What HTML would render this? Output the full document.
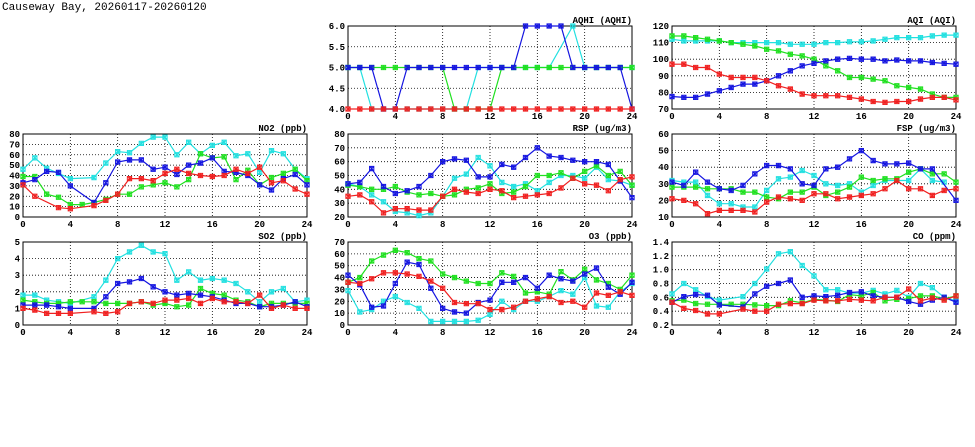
<!DOCTYPE html>
<html><head><meta charset="utf-8"><style>
body{margin:0;background:#fff;width:975px;height:447px;overflow:hidden}
svg{display:block}
text{font-family:"Liberation Mono","DejaVu Sans Mono",monospace;font-size:9px;font-weight:bold;fill:#000}
</style></head><body>
<svg id="c" width="975" height="447">
<text x="2" y="10" style="font-size:11px;font-weight:normal">Causeway Bay, 20260117-20260120</text>
</svg>
<script>
const hours = [0,1,2,3,4,5,6,7,8,9,10,11,12,13,14,15,16,17,18,19,20,21,22,23,24];
const xTicks = [0,4,8,12,16,20,24];
const seriesColors = ["#22e0e0","#20e020","#1515e0","#f02020"];
const seriesNames = ["cyan","green","blue","red"];

const aqhiCyan = [5,5,4,4,4,4,4,4,4,4,4,5,5,5,5,5,5,5,null,6,5,5,5,5,5];
const aqhiGreen = [5,5,5,5,5,5,5,5,5,4,4,4,4,5,5,5,5,5,5,5,5,5,5,5,5];
const aqhiBlue = [5,5,5,4,4,5,5,5,5,5,5,5,5,5,5,6,6,6,6,5,5,5,5,5,4];
const aqhiRed = [4,4,4,4,4,4,4,4,4,4,4,4,4,4,4,4,4,4,4,4,4,4,4,4,4];
const aqhiTicks = [4.0,4.5,5.0,5.5,6.0];

const aqiCyan = [112,111,111,111,111,110,110,110,110,110,109,109,109,110,110,110.5,110.5,111,112,113,113,113,114,114.5,114.5];
const aqiGreen = [114,114,113,112,111,110,109,108,106,105,103,102,100,96,93,89,89,88,87,84,83,82,79,77,77];
const aqiBlue = [77.5,77,77,79,81,83,85,85,87,90,93,96,97.5,99,100,100.5,100,100,99,99.5,99,99,98,97.5,97];
const aqiRed = [97,97,95,95,91,89,89,89,87,84,82,79,78,78,78,77,76,74.5,74,74.5,74.5,76,77,77,75.5];
const aqiTicks = [70,80,90,100,110,120];

const no2Cyan = [46,57,47,42,37,null,38,52,63,62,71,77,77,60,72,61,69,72,59,61,43,64,61,46,37];
const no2Green = [39,39,22,19,12,12,14,17,22,22,29,31,33,29,36,61,57,58,36,45,31,38,42,46,35];
const no2Blue = [33,36,44,43,30,null,14,33,53,55,55,46,48,41,50,52,57,44,43,40,31,26,37,41,31];
const no2Red = [31,20,null,9,8,null,11,16,22,37,37,35,42,46,42,40,39,40,46,42,48,33,35,27,22];
const no2Ticks = [0,10,20,30,40,50,60,70,80];

const rspCyan = [44,42,36,31,24,23,21,23,35,48,51,63,57,45,42,44,39,45,50,50,48,56,47,46,43];
const rspGreen = [43,42,40,40,42,38,36,37,35,36,40,41,44,37,38,42,50,50,52,48,53,57,50,53,43];
const rspBlue = [44,45,55,42,37,39,42,50,60,62,61,49,49,58,56,63,70,64,63,61,60,60,58,46,34];
const rspRed = [35,36,31,23,26,26,25,25,35,40,38,37,40,39,34,35,36,37,41,48,44,43,39,47,49];
const rspTicks = [20,30,40,50,60,70,80];

const fspCyan = [32,31,31,23,18,18,16,16,26,33,34,38,35,30,29,30,25,29,32,32,32,39,32,31,null];
const fspGreen = [28,28,28,27,27,27,25,25,22,21,25,25,28,23,25,28,34,32,33,33,37,39,36,36,31];
const fspBlue = [31,29,37,31,27,26,29,36,41,41,39,30,29,39,40,45,50,44,42,42,42.5,39,39,null,20];
const fspRed = [21,20,18,12,14,14,14,13,19,22,21,20,24,24,21,22,23,24,27,32,27,27,23,26,27];
const fspTicks = [10,20,30,40,50,60];

const so2Cyan = [1.8,1.8,1.5,1.4,1.3,null,1.7,2.7,4.0,4.4,4.8,4.4,4.3,2.7,3.2,2.7,2.8,2.7,2.5,2.0,1.4,2.0,2.2,1.4,1.5];
const so2Green = [1.5,1.4,1.3,1.3,1.4,1.4,1.4,1.3,1.3,1.3,1.4,1.2,1.3,1.1,1.2,2.2,1.9,1.8,1.5,1.4,1.1,1.3,1.3,1.3,1.3];
const so2Blue = [1.2,1.2,1.2,1.1,1.0,null,1.0,1.7,2.5,2.6,2.8,2.3,2.0,1.8,1.9,1.8,1.7,1.5,1.3,1.3,1.1,1.1,1.2,1.4,1.1];
const so2Red = [1.0,0.9,0.7,0.7,0.7,null,0.8,0.7,0.8,1.3,1.4,1.3,1.5,1.5,1.6,1.3,1.6,1.4,1.4,1.3,1.8,1.0,1.2,1.0,1.0];
const so2Ticks = [0,1,2,3,4,5];

const o3Cyan = [29,11,13,20,24,19,14,3,3,3,3,4,9,20,13,20,20,24,29,26,40,16,15,28,35];
const o3Green = [36,40,54,59,63,61,56,54,43,40,37,35,35,44,41,27,28,26,45,38,47,38,35,30,42];
const o3Blue = [42,34,15,16,35,53,51,31,14,11,10,19,21,36,36,40,31,42,39,37,43,48,32,26,36];
const o3Red = [36,35,39,44,44,43,41,37,31,19,18,18,13,13,15,20,22,24,19,20,15,27,25,28,25];
const o3Ticks = [0,10,20,30,40,50,60,70];

const coCyan = [0.65,0.8,0.71,0.61,0.56,null,0.61,0.8,1.01,1.23,1.26,1.06,0.91,0.71,0.71,0.66,0.66,0.7,0.65,0.7,0.6,0.8,0.74,0.6,0.55];
const coGreen = [0.55,0.56,0.51,0.5,0.5,0.5,0.5,0.49,0.48,0.48,0.55,0.52,0.57,0.56,0.54,0.64,0.62,0.67,0.55,0.57,0.58,0.62,0.62,0.58,0.62];
const coBlue = [0.53,0.61,0.64,0.63,0.49,null,0.46,0.65,0.76,0.8,0.85,0.6,0.62,0.61,0.63,0.67,0.68,0.62,0.6,0.6,0.54,0.5,0.56,0.6,0.53];
const coRed = [0.53,0.44,0.41,0.36,0.36,null,0.43,0.4,0.4,0.5,0.51,0.51,0.56,0.55,0.55,0.57,0.56,0.55,0.6,0.6,0.72,0.55,0.59,0.56,0.62];
const coTicks = [0.2,0.4,0.6,0.8,1.0,1.2,1.4];

const NS = "http://www.w3.org/2000/svg";
const svg = document.getElementById("c");
function mk(tag, attrs, parent){const e=document.createElementNS(NS,tag);for(const k in attrs)e.setAttribute(k,attrs[k]);(parent||svg).appendChild(e);return e;}

function panel(key,title,L,T,ticks,dec,series){
  const R=L+284,B=T+83;
  const ymin=ticks[0],ymax=ticks[ticks.length-1];
  const xs=h=>L+(h/24)*(R-L);
  const ys=v=>B-(v-ymin)/(ymax-ymin)*(B-T);
  const g=mk("g",{});
  
  
  ticks.forEach(t=>{
    const y=ys(t);
    if(t!==ymin&&t!==ymax){const gl=mk("line",{x1:L,x2:R,y1:y,y2:y,stroke:"#000","stroke-width":0.8,"stroke-dasharray":"1,2"},g);
      }
    const tx=mk("text",{x:L-3,y:y+3,"text-anchor":"end"},g);tx.textContent=t.toFixed(dec);
    
  });
  xTicks.forEach(t=>{
    const x=xs(t);
    if(t!==0&&t!==24){const gl=mk("line",{x1:x,x2:x,y1:T,y2:B,stroke:"#000","stroke-width":0.8,"stroke-dasharray":"1,2"},g);
      }
    const tx=mk("text",{x:x,y:B+10,"text-anchor":"middle"},g);tx.textContent=t;
    
  });
  const fr=mk("rect",{x:L,y:T,width:R-L,height:B-T,fill:"none",stroke:"#000","stroke-width":1},g);
  
  const tt=mk("text",{x:R,y:T-3,"text-anchor":"end"},g);tt.textContent=title;
  
  series.forEach((vals,si)=>{
    const col=seriesColors[si];
    const pts=[];hours.forEach((h,i)=>{if(vals[i]!==null)pts.push([xs(h),ys(vals[i])]);});
    const pl=mk("polyline",{points:pts.map(p=>p[0].toFixed(1)+","+p[1].toFixed(1)).join(" "),fill:"none",stroke:col,"stroke-width":1.2},g);
    
    
    pts.forEach(p=>{
      const s=2.2;
      const m=mk("path",{d:`M${p[0]-s},${p[1]-s}h${2*s}v${2*s}h${-2*s}z M${p[0]-s},${p[1]-s}L${p[0]+s},${p[1]+s}M${p[0]+s},${p[1]-s}L${p[0]-s},${p[1]+s}M${p[0]},${p[1]-s}V${p[1]+s}`,fill:col,"fill-opacity":0.2,stroke:col,"stroke-width":0.9},g);
      
      
    });
  });
}
panel("aqhi","AQHI (AQHI)",348,26,aqhiTicks,1,[aqhiCyan,aqhiGreen,aqhiBlue,aqhiRed]);
panel("aqi","AQI (AQI)",672,26,aqiTicks,0,[aqiCyan,aqiGreen,aqiBlue,aqiRed]);
panel("no2","NO2 (ppb)",23,134,no2Ticks,0,[no2Cyan,no2Green,no2Blue,no2Red]);
panel("rsp","RSP (ug/m3)",348,134,rspTicks,0,[rspCyan,rspGreen,rspBlue,rspRed]);
panel("fsp","FSP (ug/m3)",672,134,fspTicks,0,[fspCyan,fspGreen,fspBlue,fspRed]);
panel("so2","SO2 (ppb)",23,242,so2Ticks,0,[so2Cyan,so2Green,so2Blue,so2Red]);
panel("o3","O3 (ppb)",348,242,o3Ticks,0,[o3Cyan,o3Green,o3Blue,o3Red]);
panel("co","CO (ppm)",672,242,coTicks,1,[coCyan,coGreen,coBlue,coRed]);
</script>
</body></html>
